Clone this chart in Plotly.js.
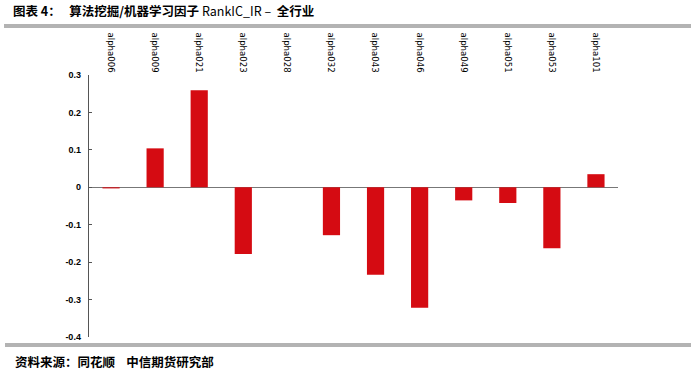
<!DOCTYPE html>
<html><head><meta charset="utf-8">
<script src="https://cdn.plot.ly/plotly-3.0.1.min.js"></script>
<style>html,body{margin:0;padding:0;background:#fff}#chart{width:700px;height:373px}</style>
</head><body><div id="chart"></div>
<script>
const categories = ['alpha006','alpha009','alpha021','alpha023','alpha028','alpha032','alpha043','alpha046','alpha049','alpha051','alpha053','alpha101'];
const rankIcIr = [-0.003, 0.104, 0.259, -0.178, 0.0, -0.128, -0.234, -0.322, -0.035, -0.042, -0.163, 0.035];
const yTicks = [0.3, 0.2, 0.1, 0, -0.1, -0.2, -0.3, -0.4];
const yTickText = ['0.3','0.2','0.1','0','-0.1','-0.2','-0.3','-0.4'];

const L = 89, R = 618, T = 75, B = 337, W = 700, H = 373;
const px = x => (x - L) / (R - L);
const py = y => (B - y) / (B - T);

Plotly.newPlot('chart', [{
  type: 'bar', x: categories, y: rankIcIr,
  marker: {color: '#d50b12', line: {width: 0}},
  hoverinfo: 'skip'
}], {
  width: W, height: H,
  margin: {l: L, r: W - R, t: T, b: H - B, pad: 0},
  paper_bgcolor: '#fff', plot_bgcolor: '#fff',
  bargap: 0.61, showlegend: false,
  font: {family: 'Liberation Sans, Arial, sans-serif', color: '#000'},
  title: {text: '<b>图表 4：   算法挖掘/机器学习因子 </b>RankIC_IR –  <b>全行业</b>',
    font: {family: 'Noto Sans CJK SC, sans-serif', size: 12.5, color: '#000'},
    xref: 'container', yref: 'container', x: 13/W, xanchor: 'left', y: 1 - 12/H, yanchor: 'middle'},
  xaxis: {side: 'top', tickangle: 90, showline: false, showgrid: false, zeroline: false, ticks: '',
    tickfont: {size: 9.5, family: 'DejaVu Sans Condensed, Liberation Sans, sans-serif', color: '#000'}, fixedrange: true},
  yaxis: {range: [-0.4, 0.3], tickvals: yTicks, ticktext: yTickText, showgrid: false,
    showline: true, linecolor: '#555', linewidth: 1.3, ticks: 'inside', ticklen: 3, tickcolor: '#555',
    zeroline: true, zerolinecolor: '#777', zerolinewidth: 1.3, ticklabelstandoff: 5,
    tickfont: {size: 9, family: 'Liberation Sans, Arial, sans-serif', color: '#000', weight: 'bold'}, fixedrange: true},
  shapes: [
    {type: 'rect', xref: 'paper', yref: 'paper', x0: px(4), x1: px(691), y0: py(28), y1: py(24), fillcolor: '#b3b3b3', line: {width: 0}},
    {type: 'rect', xref: 'paper', yref: 'paper', x0: px(5), x1: px(691), y0: py(347), y1: py(343), fillcolor: '#b3b3b3', line: {width: 0}}
  ],
  annotations: [
    {text: '<b>资料来源：同花顺    中信期货研究部</b>', xref: 'paper', yref: 'paper', x: px(13), y: py(361),
     xanchor: 'left', yanchor: 'middle', showarrow: false,
     font: {family: 'Noto Sans CJK SC, sans-serif', size: 12.5, color: '#000'}}
  ]
}, {displayModeBar: false, staticPlot: true});
</script></body></html>
